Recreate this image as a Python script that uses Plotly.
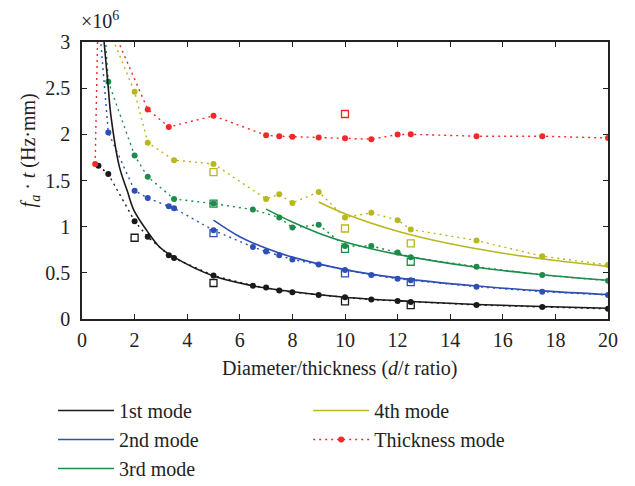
import plotly.graph_objects as go

# ---------------- data (values in units of 1e6 Hz·mm) ----------------
# measured points (dotted lines with filled markers)
m1_x = [0.625, 1, 2, 2.5, 3.3, 3.5, 5, 6.5, 7, 7.5, 8, 9, 10, 11, 12, 12.5, 15, 17.5, 20]
m1_y = [1.66, 1.57, 1.06, 0.89, 0.69, 0.66, 0.47, 0.36, 0.34, 0.31, 0.29, 0.26, 0.235, 0.21, 0.195, 0.184, 0.152, 0.13, 0.11]

m2_x = [0.625, 1, 2, 2.5, 3.3, 3.5, 5, 6.5, 7, 7.5, 8, 9, 10, 11, 12, 12.5, 15, 17.5, 20]
m2_y = [3.3, 2.02, 1.39, 1.31, 1.22, 1.20, 0.96, 0.78, 0.73, 0.69, 0.645, 0.59, 0.53, 0.477, 0.437, 0.42, 0.35, 0.296, 0.26]

m3_x = [0.625, 1, 2, 2.5, 3.5, 5, 6.5, 7.5, 8, 9, 10, 11, 12, 12.5, 15, 17.5, 20]
m3_y = [4.2, 2.57, 1.77, 1.54, 1.30, 1.25, 1.185, 1.10, 0.99, 1.02, 0.79, 0.79, 0.72, 0.67, 0.567, 0.477, 0.415]

m4_x = [1, 2, 2.5, 3.5, 5, 7, 7.5, 8, 9, 10, 11, 12, 12.5, 15, 17.5, 20]
m4_y = [3.15, 2.46, 1.91, 1.72, 1.68, 1.30, 1.35, 1.257, 1.376, 1.10, 1.15, 1.07, 0.97, 0.85, 0.68, 0.585]

th_x = [0.5, 0.625, 2.5, 3.3, 5, 7, 7.5, 8, 9, 10, 11, 12, 12.5, 15, 17.5, 20]
th_y = [1.68, 3.5, 2.27, 2.08, 2.20, 1.99, 1.98, 1.975, 1.965, 1.957, 1.947, 1.997, 2.0, 1.98, 1.98, 1.96]

# secondary measurements (open squares)
s1_x = [2, 5, 10, 12.5]
s1_y = [0.88, 0.39, 0.19, 0.15]
s2_x = [5, 10, 12.5]
s2_y = [0.93, 0.495, 0.40]
s3_x = [5, 10, 12.5]
s3_y = [1.25, 0.76, 0.62]
s4_x = [5, 10, 12.5]
s4_y = [1.59, 0.98, 0.82]
s5_x = [10]
s5_y = [2.22]

# theoretical curves (solid lines)
t1_x = [0.84, 1.0, 1.1, 1.42, 1.73, 1.97, 2.46, 2.95, 3.5, 5, 6.5, 7.5, 10, 12.5, 15, 17.5, 20]
t1_y = [3.0, 2.5, 2.2, 1.65, 1.38, 1.18, 0.96, 0.78, 0.67, 0.466, 0.36, 0.315, 0.235, 0.19, 0.157, 0.135, 0.116]
t2_x = [5, 6, 7, 8, 10, 12, 15, 17.5, 20]
t2_y = [1.07, 0.89, 0.765, 0.67, 0.535, 0.445, 0.357, 0.305, 0.265]
t3_x = [7, 8, 9, 10, 12, 15, 17.5, 20]
t3_y = [1.19, 1.05, 0.93, 0.835, 0.70, 0.56, 0.48, 0.42]
t4_x = [9, 10, 12, 14, 16, 18, 20]
t4_y = [1.267, 1.14, 0.95, 0.814, 0.713, 0.633, 0.57]

x_ticks = [0, 2, 4, 6, 8, 10, 12, 14, 16, 18, 20]
y_ticks = [0, 0.5, 1, 1.5, 2, 2.5, 3]
y_tick_text = ["0", "0.5", "1", "1.5", "2", "2.5", "3"]

legend_names = ["1st mode", "2nd mode", "3rd mode", "4th mode", "Thickness mode"]

# ---------------- styling ----------------
BLACK = "#1a1a1a"
BLUE = "#2e4fb5"
GREEN = "#1e8c4a"
YELLOW = "#b8b81e"
RED = "#f02828"
FONT = "Liberation Serif"
DOT = "2px,4px"
TXT = "#222222"

fig = go.Figure()

def dotted(x, y, color):
    fig.add_trace(go.Scatter(x=x, y=y, mode="lines+markers", showlegend=False,
                             line=dict(color=color, width=1.4, dash=DOT),
                             marker=dict(color=color, size=6, symbol="circle")))

def squares(x, y, color):
    fig.add_trace(go.Scatter(x=x, y=y, mode="markers", showlegend=False,
                             marker=dict(color=color, size=7, symbol="square-open",
                                         line=dict(width=1.3, color=color))))

dotted(m1_x, m1_y, BLACK)
dotted(m2_x, m2_y, BLUE)
dotted(m3_x, m3_y, GREEN)
dotted(m4_x, m4_y, YELLOW)

squares(s1_x, s1_y, BLACK)
squares(s2_x, s2_y, BLUE)
squares(s3_x, s3_y, GREEN)
squares(s4_x, s4_y, YELLOW)
squares(s5_x, s5_y, RED)

for xs, ys, col, name, lg, grp in [
    (t1_x, t1_y, BLACK, legend_names[0], "legend", "a"),
    (t2_x, t2_y, BLUE, legend_names[1], "legend", "b"),
    (t3_x, t3_y, GREEN, legend_names[2], "legend", "c"),
    (t4_x, t4_y, YELLOW, legend_names[3], "legend2", "d"),
]:
    fig.add_trace(go.Scatter(x=xs, y=ys, mode="lines", name=name, legend=lg,
                             legendgroup=grp,
                             line=dict(color=col, width=1.6, shape="spline", smoothing=1)))

fig.add_trace(go.Scatter(x=th_x, y=th_y, mode="lines+markers", name=legend_names[4],
                         legend="legend2", legendgroup="e",
                         line=dict(color=RED, width=1.4, dash=DOT),
                         marker=dict(color=RED, size=6)))

axis_common = dict(showline=True, linecolor=TXT, linewidth=1.5, mirror="ticks",
                   ticks="inside", ticklen=5, tickwidth=1.2, tickcolor=TXT,
                   showgrid=False, zeroline=False, automargin=False,
                   tickfont=dict(family=FONT, size=20, color=TXT))

fig.update_xaxes(range=[0, 20], tickvals=x_ticks, ticklabelstandoff=2, **axis_common)
fig.update_yaxes(range=[0, 3], tickvals=y_ticks, ticktext=y_tick_text,
                 ticklabelstandoff=6, **axis_common)

legend_common = dict(font=dict(family=FONT, size=20, color=TXT),
                     bgcolor="rgba(0,0,0,0)", tracegroupgap=0,
                     xanchor="left", yanchor="top", itemwidth=56)

fig.update_layout(
    width=627, height=478,
    margin=dict(l=74, r=27, t=34, b=167, autoexpand=False),
    paper_bgcolor="white", plot_bgcolor="white",
    font=dict(family=FONT, size=20, color=TXT),
    legend=dict(x=-0.055, y=-0.26, **legend_common),
    legend2=dict(x=0.43, y=-0.26, **legend_common),
    annotations=[
        dict(text="×10<sup>6</sup>", xref="paper", yref="paper", x=-0.005, y=1.08,
             xanchor="left", yanchor="middle", showarrow=False,
             font=dict(family=FONT, size=20, color=TXT)),
        dict(text="<i>f<sub>a</sub></i> · <i>t</i> (Hz·mm)", xref="paper", yref="paper",
             x=-0.10, y=0.61, xanchor="center", yanchor="middle", textangle=-90,
             showarrow=False, font=dict(family=FONT, size=20, color=TXT)),
        dict(text="Diameter/thickness (<i>d</i>/<i>t</i> ratio)", xref="paper", yref="paper",
             x=0.49, y=-0.177, xanchor="center", yanchor="middle", showarrow=False,
             font=dict(family=FONT, size=20, color=TXT)),
    ],
)

fig.write_html("out.html")
